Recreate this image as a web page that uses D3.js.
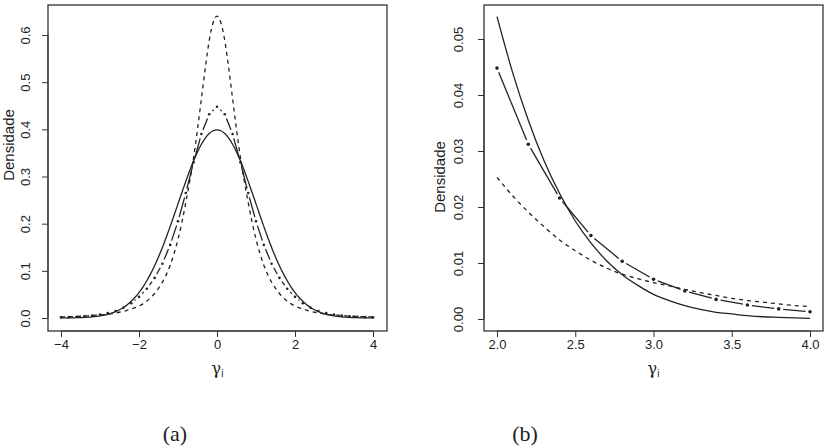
<!DOCTYPE html>
<html>
<head>
<meta charset="utf-8">
<script src="https://cdn.jsdelivr.net/npm/d3@7"></script>
<style>
  body { margin: 0; background: #fff; }
  text { font-family: 'Liberation Sans', Arial, sans-serif; fill: #222; }
</style>
</head>
<body>
<div id="chart"></div>
<script>
// densities, x >= 0 half (curves are symmetric)
var gridX = [0, 0.1, 0.2, 0.3, 0.4, 0.5, 0.6, 0.7, 0.8, 0.9, 1.0, 1.1, 1.2, 1.3, 1.4, 1.5, 1.6, 1.7, 1.8, 1.9, 2.0,
  2.1, 2.2, 2.3, 2.4, 2.5, 2.6, 2.7, 2.8, 2.9, 3.0, 3.1, 3.2, 3.3, 3.4, 3.5, 3.6, 3.7, 3.8, 3.9, 4.0]
var solidY = [0.3989, 0.397, 0.391, 0.3814, 0.3683, 0.3521, 0.3332, 0.3123, 0.2897, 0.2661, 0.242, 0.2179, 0.1942,
  0.1714, 0.1497, 0.1295, 0.1109, 0.094, 0.079, 0.0656, 0.054, 0.044, 0.0355, 0.0283, 0.0224, 0.0175, 0.0136,
  0.0104, 0.0079, 0.006, 0.0044, 0.0033, 0.0024, 0.0017, 0.0012, 0.0009, 0.0006, 0.0004, 0.0003, 0.0002, 0.0001]
var dashedY = [0.64, 0.626, 0.588, 0.53, 0.465, 0.4, 0.34, 0.29, 0.245, 0.203, 0.167, 0.137, 0.112, 0.092, 0.076,
  0.063, 0.052, 0.043, 0.036, 0.03, 0.0253, 0.022, 0.0191, 0.0165, 0.0141, 0.0122, 0.0105, 0.0091, 0.008, 0.0072,
  0.0065, 0.0059, 0.0053, 0.0047, 0.0042, 0.0037, 0.0033, 0.003, 0.0027, 0.0024, 0.0022]
var pointX = [0, 0.2, 0.4, 0.6, 0.8, 1.0, 1.2, 1.4, 1.6, 1.8, 2.0, 2.2, 2.4, 2.6, 2.8, 3.0, 3.2, 3.4, 3.6, 3.8, 4.0]
var pointY = [0.448, 0.432, 0.39, 0.33, 0.265, 0.205, 0.155, 0.115, 0.085, 0.062, 0.0448, 0.0312, 0.0216, 0.0149,
  0.0103, 0.0071, 0.005, 0.0035, 0.0025, 0.0018, 0.0013]

var ticksXA = [-4, -2, 0, 2, 4]
var ticksYA = [0, 0.1, 0.2, 0.3, 0.4, 0.5, 0.6]
var ticksXB = [2.0, 2.5, 3.0, 3.5, 4.0]
var ticksYB = [0, 0.01, 0.02, 0.03, 0.04, 0.05]

function mirror(xs, ys) {
  var out = []
  for (var i = xs.length - 1; i > 0; i--) out.push({ x: -xs[i], y: ys[i] })
  for (var j = 0; j < xs.length; j++) out.push({ x: xs[j], y: ys[j] })
  return out
}
function half(xs, ys, from) {
  var out = []
  xs.forEach(function(x, i) { if (x >= from - 1e-9) out.push({ x: x, y: ys[i] }) })
  return out
}

var svg = d3.select('#chart').append('svg')
  .attr('width', 828).attr('height', 448)

var ink = '#222'

function panel(opt) {
  var g = svg.append('g')
  var x = d3.scaleLinear().domain(opt.xDomain).range(opt.xRange)
  var y = d3.scaleLinear().domain(opt.yDomain).range(opt.yRange)
  var box = opt.box

  var line = d3.line().x(function(d) { return x(d.x) }).y(function(d) { return y(d.y) })
    .curve(d3.curveMonotoneX)

  // solid
  g.append('path').attr('d', line(opt.solid))
    .attr('fill', 'none').attr('stroke', ink).attr('stroke-width', 1.3)
  // dashed
  g.append('path').attr('d', line(opt.dashed))
    .attr('fill', 'none').attr('stroke', ink).attr('stroke-width', 1.3)
    .attr('stroke-dasharray', '4,4')

  // points joined by gapped segments (R type = "b")
  var pts = opt.points.map(function(d) { return [x(d.x), y(d.y)] })
  var gap = 4.5
  for (var i = 0; i < pts.length - 1; i++) {
    var p = pts[i], q = pts[i + 1]
    var dx = q[0] - p[0], dy = q[1] - p[1]
    var len = Math.sqrt(dx * dx + dy * dy)
    if (len <= 2 * gap) continue
    var ux = dx / len, uy = dy / len
    g.append('line')
      .attr('x1', p[0] + ux * gap).attr('y1', p[1] + uy * gap)
      .attr('x2', q[0] - ux * gap).attr('y2', q[1] - uy * gap)
      .attr('stroke', ink).attr('stroke-width', 1.3)
  }
  g.selectAll('circle.pt').data(pts).enter().append('circle')
    .attr('class', 'pt')
    .attr('cx', function(d) { return d[0] })
    .attr('cy', function(d) { return d[1] })
    .attr('r', opt.r)
    .attr('fill', ink)

  // box
  g.append('rect')
    .attr('x', box[0]).attr('y', box[1])
    .attr('width', box[2] - box[0]).attr('height', box[3] - box[1])
    .attr('fill', 'none').attr('stroke', '#333').attr('stroke-width', 1.3)

  var xAxis = d3.axisBottom(x).tickValues(opt.xTicks).tickSize(6).tickPadding(3)
    .tickFormat(opt.xFormat)
  var gx = g.append('g').attr('transform', 'translate(0,' + box[3] + ')').call(xAxis)
  gx.select('.domain').attr('d', 'M' + x(opt.xTicks[0]) + ',0H' + x(opt.xTicks[opt.xTicks.length - 1]))
    .attr('stroke', '#333')
  gx.selectAll('.tick line').attr('stroke', '#333')
  gx.selectAll('.tick text').attr('font-size', 13).attr('fill', '#333')

  var yAxis = d3.axisLeft(y).tickValues(opt.yTicks).tickSize(6).tickFormat(opt.yFormat)
  var gy = g.append('g').attr('transform', 'translate(' + box[0] + ',0)').call(yAxis)
  gy.select('.domain').attr('d', 'M0,' + y(opt.yTicks[0]) + 'V' + y(opt.yTicks[opt.yTicks.length - 1]))
    .attr('stroke', '#333')
  gy.selectAll('.tick line').attr('stroke', '#333')
  gy.selectAll('.tick text')
    .attr('font-size', 13).attr('fill', '#333')
    .attr('x', null).attr('dy', null)
    .attr('text-anchor', 'middle')
    .attr('transform', 'translate(' + (opt.yLabelX - box[0]) + ',0) rotate(-90)')

  // axis titles
  var xt = g.append('text')
    .attr('x', (box[0] + box[2]) / 2).attr('y', 374)
    .attr('text-anchor', 'middle').attr('font-size', 16).attr('fill', '#333')
  xt.append('tspan').style('font-family', "'DejaVu Serif', serif").text('γ')
  xt.append('tspan').attr('font-size', 10).attr('dy', 3).text('i')

  g.append('text')
    .attr('transform', 'translate(' + opt.titleX + ',' + opt.titleY + ') rotate(-90)')
    .attr('text-anchor', 'middle').attr('dy', '0.35em')
    .attr('font-size', 15).attr('fill', '#333')
    .text('Densidade')

  svg.append('text')
    .attr('x', opt.captionX).attr('y', 441)
    .attr('text-anchor', 'middle')
    .style('font-family', "'Liberation Serif', 'DejaVu Serif', serif")
    .attr('font-size', 22).attr('fill', '#111')
    .text(opt.caption)
}

panel({
  xDomain: [-4, 4], xRange: [61, 373],
  yDomain: [0, 0.6], yRange: [318, 35],
  box: [48, 5, 387, 331],
  solid: mirror(gridX, solidY),
  dashed: mirror(gridX, dashedY),
  points: mirror(pointX, pointY),
  r: 1.3,
  xTicks: ticksXA, yTicks: ticksYA,
  xFormat: function(d) { return d < 0 ? '\u2212' + Math.abs(d) : String(d) },
  yFormat: d3.format('.1f'),
  yLabelX: 30,
  titleX: 9, titleY: 145,
  caption: '(a)', captionX: 175
})

panel({
  xDomain: [2, 4], xRange: [497, 810],
  yDomain: [0, 0.05], yRange: [319, 39],
  box: [484, 5, 823, 331],
  solid: half(gridX, solidY, 2),
  dashed: half(gridX, dashedY, 2),
  points: half(pointX, pointY, 2),
  r: 1.8,
  xTicks: ticksXB, yTicks: ticksYB,
  xFormat: d3.format('.1f'),
  yFormat: d3.format('.2f'),
  yLabelX: 463,
  titleX: 440, titleY: 177,
  caption: '(b)', captionX: 525
})
</script>
</body>
</html>
